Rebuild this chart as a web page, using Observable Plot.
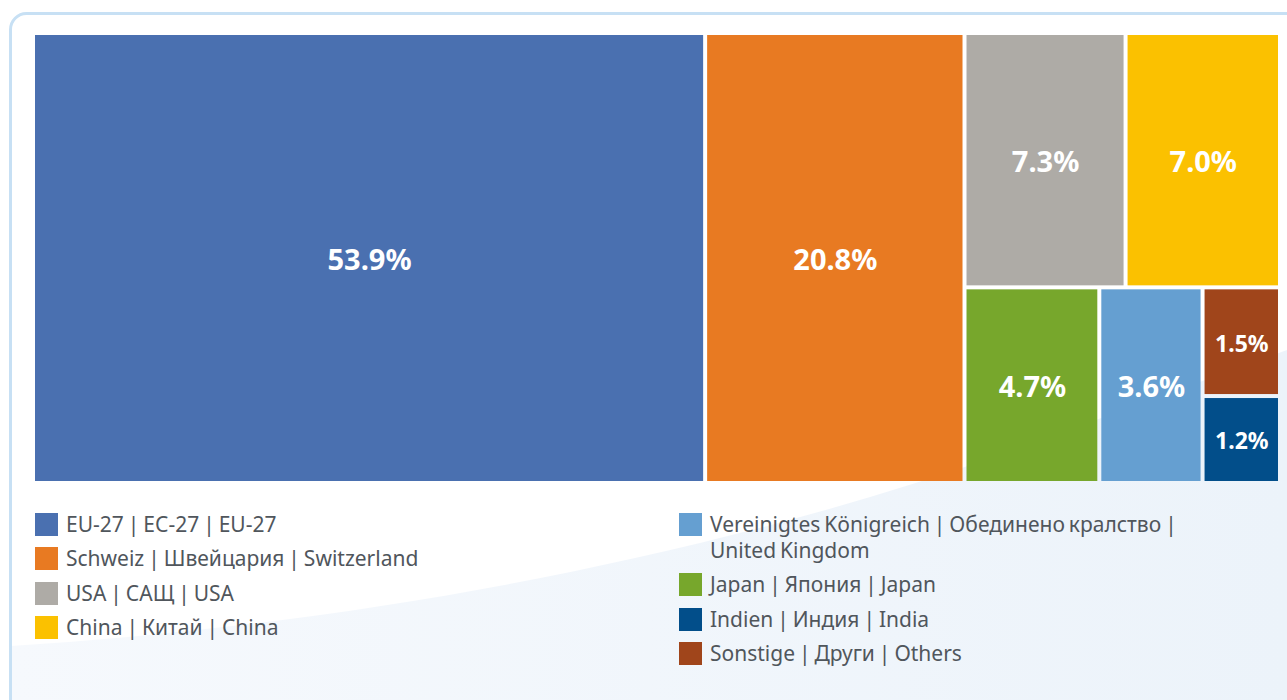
<!DOCTYPE html>
<html>
<head>
<meta charset="utf-8">
<script src="https://cdn.jsdelivr.net/npm/d3@7"></script>
<script src="https://cdn.jsdelivr.net/npm/@observablehq/plot@0.6"></script>
<style>
  html, body { margin: 0; padding: 0; background: #fff; }
  body { width: 1287px; height: 700px; position: relative; overflow: hidden; font-family: "Noto Sans", sans-serif; }
  #deco { position: absolute; left: 0; top: 0; }
  #chart { position: absolute; left: 0; top: 0; }
  .legend { position: absolute; top: 511px; }
  .row { display: flex; align-items: flex-start; margin-bottom: 8.3px; }
  .sw { width: 23px; height: 23px; margin-top: 2px; margin-right: 8px; flex: none; }
  .lbl { font-size: 21px; line-height: 26px; color: #50565c; word-spacing: -1.5px; }
  #legR .lbl { max-width: 470px; }
</style>
</head>
<body>
<svg id="deco" width="1287" height="700">
  <defs>
    <linearGradient id="sg" x1="0" x2="1" y1="0" y2="0">
      <stop offset="0" stop-color="#f6f9fd"/>
      <stop offset="1" stop-color="#ecf3fa"/>
    </linearGradient>
  </defs>
  <path d="M11,646 C350,625 700,560 1000,455 L1287,350 L1287,700 L11,700 Z" fill="url(#sg)"/>
  <rect x="10.5" y="13.5" width="1400" height="800" rx="16" fill="none" stroke="#c7e0f4" stroke-width="3"/>
</svg>
<div id="chart"></div>
<div class="legend" id="legL" style="left:35px"></div>
<div class="legend" id="legR" style="left:679px"></div>
<script>
// ---- data ----
const keys = ["EU", "CH", "US", "CN", "JP", "UK", "OT", "IN"];
const categories = [
  "EU-27 | ЕС-27 | EU-27",
  "Schweiz | Швейцария | Switzerland",
  "USA | САЩ | USA",
  "China | Китай | China",
  "Japan | Япония | Japan",
  "Vereinigtes Königreich | Обединено кралство | United Kingdom",
  "Sonstige | Други | Others",
  "Indien | Индия | India"
];
const shares = [53.9, 20.8, 7.3, 7.0, 4.7, 3.6, 1.5, 1.2];
const colors = ["#4a70b0", "#e87a22", "#aeaba6", "#fbc100", "#77a72c", "#659fd1", "#a0451b", "#024e8a"];
const legendLeft = ["EU", "CH", "US", "CN"];
const legendRight = ["UK", "JP", "IN", "OT"];

// ---- hierarchy (nesting of the treemap) ----
const leaf = k => { const i = keys.indexOf(k); return {key: k, name: categories[i], value: shares[i], color: colors[i]}; };
const tree = {children: [
  leaf("EU"), leaf("CH"),
  {children: [
    {children: [leaf("US"), leaf("CN")]},
    {children: [leaf("JP"), leaf("UK"), {children: [leaf("OT"), leaf("IN")]}]}
  ]}
]};
const root = d3.hierarchy(tree).sum(d => d.value || 0);
d3.treemap().tile(d3.treemapSliceDice).size([1, 1]).round(false)(root);
const tiles = root.leaves().map(n => ({...n.data, x0: n.x0, x1: n.x1, y0: n.y0, y1: n.y1}));

const chart = Plot.plot({
  width: 1287,
  height: 490,
  marginLeft: 33,
  marginRight: 7,
  marginTop: 33,
  marginBottom: 7,
  style: {background: "transparent"},
  x: {domain: [0, 1], axis: null},
  y: {domain: [0, 1], reverse: true, axis: null},
  color: {domain: keys, range: colors},
  marks: [
    Plot.rect(tiles, {x1: "x0", x2: "x1", y1: "y0", y2: "y1", fill: "key", inset: 2}),
    Plot.text(tiles, {
      x: d => (d.x0 + d.x1) / 2,
      y: d => (d.y0 + d.y1) / 2,
      dy: 2,
      text: d => d.value.toFixed(1) + "%",
      fill: "white",
      fontWeight: "bold",
      fontFamily: "Noto Sans",
      fontSize: d => d.value < 2 ? 23 : 29
    })
  ]
});
document.getElementById("chart").appendChild(chart);

function buildLegend(id, list) {
  const el = document.getElementById(id);
  for (const k of list) {
    const i = keys.indexOf(k);
    const row = document.createElement("div");
    row.className = "row";
    const sw = document.createElement("div");
    sw.className = "sw";
    sw.style.background = colors[i];
    const lb = document.createElement("div");
    lb.className = "lbl";
    lb.textContent = categories[i];
    row.appendChild(sw); row.appendChild(lb);
    el.appendChild(row);
  }
}
buildLegend("legL", legendLeft);
buildLegend("legR", legendRight);
</script>
</body>
</html>
